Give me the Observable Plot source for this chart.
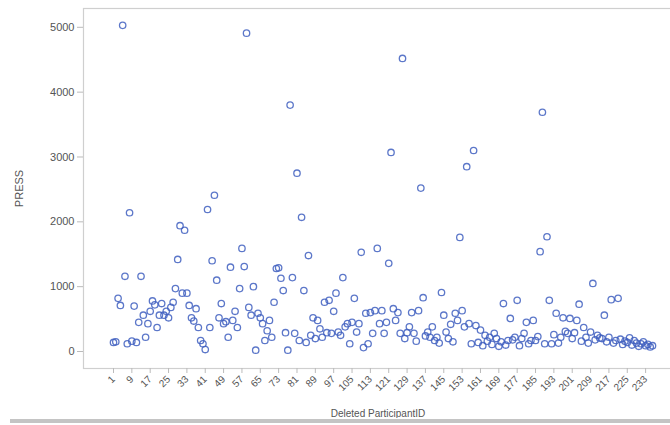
<!DOCTYPE html>
<html>
<head>
<meta charset="utf-8">
<script src="https://cdn.jsdelivr.net/npm/d3@7"></script>
<script src="https://cdn.jsdelivr.net/npm/@observablehq/plot@0.6"></script>
<style>
  html, body { margin: 0; padding: 0; background: #fff; }
  #wrap { position: relative; width: 670px; height: 425px; overflow: hidden; background: #fff; }
  #bar { position: absolute; left: 10px; top: 419px; width: 660px; height: 4px; background: #c4c4c4; }
</style>
</head>
<body>
<div id="wrap"><div id="chart"></div><div id="bar"></div></div>
<script>
// Deleted participant IDs (categories along x)
const participantIds = d3.range(1, 237);
// PRESS value for each deleted participant, in ID order
const pressValues = [
  140, 150, 820, 710, 5030, 1160, 120, 2140, 160, 700,
  140, 450, 1160, 560, 220, 430, 620, 780, 720, 370,
  560, 740, 560, 620, 520, 680, 760, 970, 1420, 1940,
  900, 1870, 900, 710, 520, 470, 660, 370, 170, 120,
  30, 2190, 370, 1400, 2410, 1100, 520, 740, 430, 460,
  220, 1300, 480, 620, 370, 970, 1590, 1310, 4910, 680,
  560, 1000, 20, 590, 520, 430, 170, 320, 480, 220,
  760, 1280, 1290, 1130, 940, 290, 20, 3800, 1140, 280,
  2750, 170, 2070, 940, 140, 1480, 250, 520, 200, 480,
  350, 220, 760, 290, 790, 280, 620, 900, 300, 250,
  1140, 380, 430, 120, 450, 820, 300, 430, 1530, 60,
  590, 120, 600, 280, 630, 1590, 430, 630, 280, 450,
  1360, 3070, 660, 480, 600, 280, 4520, 200, 290, 380,
  600, 280, 160, 630, 2520, 830, 240, 300, 220, 380,
  170, 220, 130, 910, 560, 300, 200, 420, 150, 590,
  480, 1760, 630, 380, 2850, 430, 120, 3100, 400, 140,
  330, 90, 250, 160, 220, 110, 280, 200, 80, 150,
  740, 100, 170, 510, 180, 220, 790, 90, 200, 280,
  450, 120, 170, 480, 170, 230, 1540, 3690, 120, 1770,
  790, 120, 260, 590, 130, 220, 520, 310, 280, 510,
  200, 290, 480, 730, 160, 370, 220, 130, 300, 1050,
  180, 250, 210, 200, 560, 150, 220, 800, 130, 170,
  820, 190, 110, 160, 140, 210, 100, 170, 130, 80,
  120, 150, 90, 110, 70, 90
];
// Tick labels shown on the axes
const xTickIds = [1, 9, 17, 25, 33, 41, 49, 57, 65, 73, 81, 89, 97, 105, 113,
  121, 129, 137, 145, 153, 161, 169, 177, 185, 193, 201, 209, 217, 225, 233];
const yTicks = [0, 1000, 2000, 3000, 4000, 5000];

const rows = participantIds.map((id, i) => ({id, press: pressValues[i]}));

const chart = Plot.plot({
  width: 670,
  height: 418,
  marginLeft: 83,
  marginRight: -2,
  marginTop: 8,
  marginBottom: 50,
  style: {fontFamily: "'Liberation Sans', Arial, sans-serif", background: "#fff", color: "#555"},
  x: {type: "point", domain: participantIds, padding: 0, insetLeft: 30, insetRight: 20},
  y: {domain: [-262, 5290]},
  marks: [
    Plot.frame({stroke: "#cfcfcf", strokeWidth: 1.2}),
    Plot.axisY({ticks: yTicks, tickFormat: d3.format("d"), tickSize: 6, tickPadding: 3, fontSize: 11, stroke: "#bbb",
      label: "PRESS", labelArrow: "none", labelAnchor: "center", labelOffset: 68}),
    Plot.axisX({ticks: xTickIds, tickSize: 5, tickPadding: 4, tickRotate: -45, fontSize: 10, stroke: "#bbb",
      label: "Deleted ParticipantID", labelArrow: "none", labelAnchor: "center", labelOffset: 48}),
    Plot.dot(rows, {x: "id", y: "press", r: 3.2, stroke: "#3f5fbf", strokeWidth: 1.3, fill: "none", strokeOpacity: 0.85})
  ]
});
document.getElementById("chart").appendChild(chart);
</script>
</body>
</html>
